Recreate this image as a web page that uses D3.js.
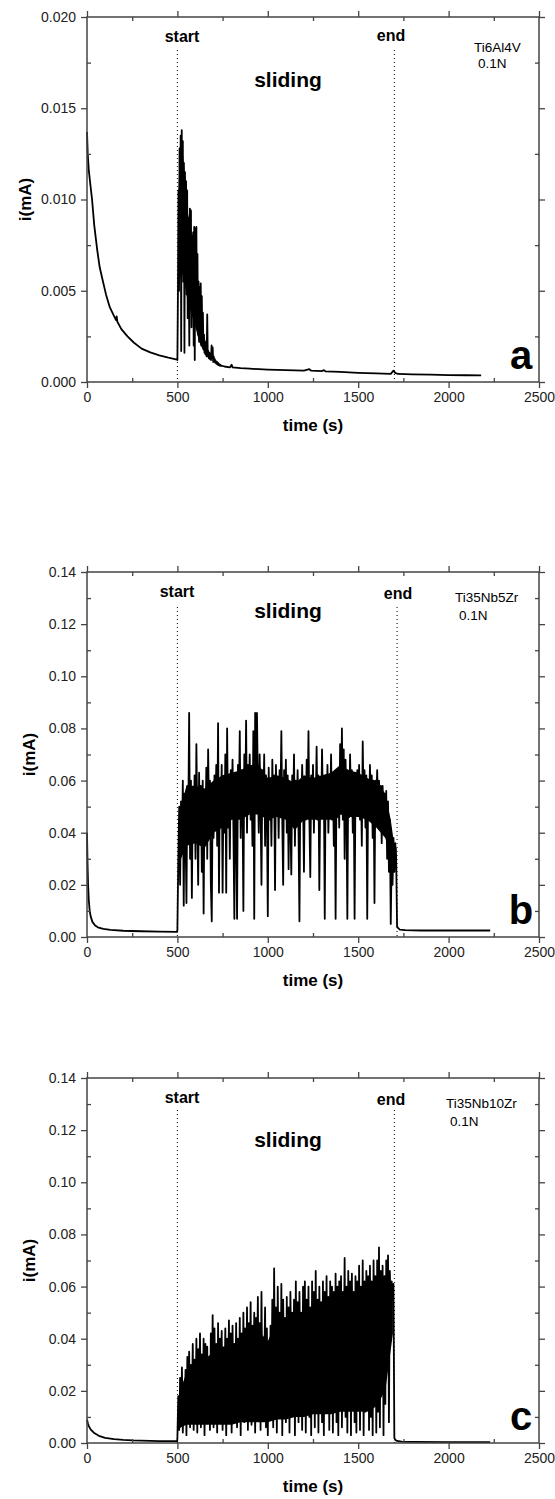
<!DOCTYPE html>
<html>
<head>
<meta charset="utf-8">
<script src="https://cdn.jsdelivr.net/npm/d3@7"></script>
<style>
body { margin: 0; background: #fff; }
svg { display: block; font-family: "Liberation Sans", Arial, sans-serif; }
</style>
</head>
<body>
<svg id="chart" width="555" height="1499"></svg>
<script>
// time axis (s), shared by the three panels
const xTicks = [0, 500, 1000, 1500, 2000, 2500]
const xMinor = [250, 750, 1250, 1750, 2250]

// current axes (mA)
const aYTicks = [0, 0.005, 0.010, 0.015, 0.020]
const aYMinor = [0.0025, 0.0075, 0.0125, 0.0175]
const bcYTicks = [0, 0.02, 0.04, 0.06, 0.08, 0.10, 0.12, 0.14]
const bcYMinor = [0.01, 0.03, 0.05, 0.07, 0.09, 0.11, 0.13]

const alloys = ["Ti6Al4V", "Ti35Nb5Zr", "Ti35Nb10Zr"]
const loads = ["0.1N", "0.1N", "0.1N"]
const letters = ["a", "b", "c"]

// sliding start / end (s)
const aMarks = [500, 1700]
const bMarks = [500, 1715]
const cMarks = [500, 1700]

// currents below are in µA (1e-3 mA)
// panel a: open circuit decay, [t, i]
const aBefore = [[0,13.7],[4,12.5],[10,11.6],[20,10.7],[28,10],[40,8.6],[57,7.2],[70,6.3],[86,5.6],[105,4.8],
  [126,4.1],[145,3.7],[160,3.4],[164,3.6],[168,3.3],[190,2.9],[224,2.5],[260,2.15],[302,1.83],[350,1.62],
  [400,1.46],[450,1.33],[498,1.23]]
// panel a: during first part of sliding, one reading every 3 s from 500 s
const aSliding = [1.2, 4.8, 10.5, 5.0, 12.8, 6.0, 13.5, 1.7, 13.8, 7.5, 13.2, 5.5, 12.0, 1.6, 11.5, 6.5, 11.0, 4.8, 10.5, 3.5,
  9.0, 5.5, 2.0, 9.5, 4.2, 9.4, 3.0, 8.0, 5.5, 8.2, 2.0, 8.5, 1.2, 8.4, 4.0, 8.5, 3.0, 7.0, 2.6, 5.5,
  2.2, 5.2, 3.0, 5.4, 2.0, 4.7, 2.2, 3.8, 1.8, 2.6, 1.6, 2.2, 1.5, 1.9, 1.4, 3.7, 1.4, 1.7, 1.3, 1.6,
  1.25, 1.5, 1.2, 2.0, 1.3, 1.9, 1.1, 1.4, 1.1, 1.25, 1.05, 1.15, 1.0, 1.1, 0.95, 1.05, 0.92, 0.98, 0.9, 0.95,
  0.88, 0.9]
// panel a: solid core of the noisy trace, [t, low, high]
const aCore = [[505,5,10],[512,5.5,12.5],[525,6,13],[540,5.5,11.5],[555,4.5,9.5],[570,4,8.5],[585,3.5,7.5],
  [600,3,6],[620,2.2,4.8],[640,1.8,3],[660,1.5,2],[680,1.25,1.5]]
const aAfter = [[760,0.85],[790,0.8],[800,0.95],[805,0.8],[850,0.76],[900,0.73],[950,0.7],[1000,0.68],[1100,0.65],[1200,0.62],
  [1230,0.7],[1240,0.62],[1300,0.6],[1310,0.65],[1320,0.58],[1400,0.55],[1500,0.5],[1600,0.47],[1680,0.45],[1695,0.62],
  [1705,0.5],[1720,0.44],[1800,0.42],[1900,0.4],[2000,0.38],[2100,0.37],[2180,0.36]]

// panel b
const bBefore = [[0,40],[3,28],[6,20],[10,14],[15,10],[20,8],[30,5.8],[45,4.4],[60,3.7],[90,3.1],
  [130,2.7],[200,2.4],[300,2.2],[400,2.1],[499,2.0]]
// one reading every 5 s from 500 s
const bSliding = [3, 30, 50, 20, 52, 35, 60, 12, 55, 40, 13, 58, 45, 86, 30, 60, 15, 55, 40, 62,
  30, 74, 45, 20, 63, 38, 58, 25, 60, 9, 55, 40, 65, 30, 72, 45, 60, 20, 6, 55,
  38, 62, 48, 66, 35, 82, 17, 60, 45, 66, 17, 58, 40, 70, 17, 80, 42, 62, 30, 64,
  50, 68, 40, 7, 60, 45, 7, 66, 50, 79, 38, 64, 52, 10, 70, 48, 83, 40, 66, 55,
  70, 45, 62, 35, 79, 7, 86, 50, 86, 60, 40, 70, 50, 20, 64, 48, 70, 35, 62, 50,
  8, 65, 45, 60, 35, 68, 50, 62, 18, 66, 48, 60, 38, 64, 52, 79, 45, 20, 64, 50,
  68, 40, 62, 26, 58, 45, 24, 62, 50, 70, 35, 60, 48, 64, 40, 6, 58, 48, 66, 52,
  25, 60, 45, 68, 50, 79, 45, 23, 62, 48, 66, 40, 60, 50, 73, 45, 62, 18, 55, 46,
  72, 50, 60, 7, 62, 48, 66, 40, 58, 50, 70, 45, 62, 35, 60, 7, 58, 46, 64, 42,
  74, 48, 80, 45, 72, 30, 68, 50, 7, 62, 46, 70, 52, 64, 40, 60, 7, 58, 48, 64,
  52, 66, 45, 60, 35, 75, 50, 64, 42, 62, 7, 58, 46, 66, 50, 62, 38, 60, 13, 60,
  50, 64, 45, 60, 52, 58, 36, 58, 48, 55, 40, 56, 30, 52, 25, 45, 5, 30, 20, 38,
  25, 36, 30, 4]
const bCore = [[505,20,45],[520,30,50],[550,35,58],[600,36,58],[650,34,57],[700,40,60],[750,42,62],[800,45,63],
  [850,45,64],[900,47,66],[950,47,66],[1000,45,61],[1050,46,62],[1100,45,61],[1150,41,59],[1200,45,62],
  [1250,45,61],[1300,45,62],[1350,45,63],[1400,47,66],[1450,46,64],[1500,46,63],[1550,45,61],[1600,42,59],
  [1650,38,55],[1680,30,45],[1700,26,35],[1712,26,34]]
const bAfter = [[1720,3.5],[1730,2.8],[1760,2.6],[1850,2.5],[2000,2.5],[2230,2.5]]

// panel c
const cBefore = [[0,9],[5,7.5],[10,6.5],[20,5.2],[40,3.8],[70,2.6],[100,2],[150,1.5],[200,1.2],[250,1],
  [300,0.9],[400,0.75],[499,0.7]]
// one reading every 5 s from 500 s
const cSliding = [2, 18, 5, 25, 8, 29, 4, 22, 10, 28, 3, 33, 12, 35, 6, 30, 14, 38, 5, 32,
  10, 40, 4, 36, 15, 42, 6, 34, 12, 40, 3, 38, 18, 37, 8, 30, 5, 42, 14, 49,
  6, 44, 16, 38, 4, 46, 12, 40, 20, 43, 5, 36, 15, 44, 3, 40, 18, 47, 8, 42,
  4, 45, 14, 38, 22, 46, 6, 40, 12, 48, 3, 42, 18, 50, 8, 44, 15, 52, 5, 46,
  20, 54, 7, 45, 12, 50, 4, 48, 25, 56, 10, 46, 5, 58, 15, 40, 28, 52, 6, 44,
  3, 38, 12, 45, 20, 55, 6, 67, 18, 52, 4, 60, 25, 50, 10, 61, 3, 55, 22, 48,
  8, 56, 16, 52, 4, 58, 28, 50, 12, 55, 3, 62, 20, 54, 8, 58, 30, 50, 5, 60,
  15, 62, 4, 55, 25, 60, 10, 52, 3, 62, 18, 58, 6, 66, 22, 55, 4, 60, 30, 54,
  8, 62, 3, 58, 20, 64, 12, 56, 5, 62, 28, 60, 4, 58, 15, 65, 8, 60, 3, 62,
  22, 64, 6, 58, 33, 71, 10, 60, 4, 66, 18, 62, 3, 65, 25, 58, 8, 64, 4, 62,
  15, 68, 5, 60, 28, 70, 3, 62, 12, 66, 20, 64, 5, 68, 10, 62, 3, 70, 25, 64,
  4, 70, 12, 75, 6, 66, 20, 68, 3, 64, 15, 70, 40, 72, 8, 66, 48, 62, 55, 61]
const cCore = [[505,5,12],[520,6,21],[550,7,27],[600,7,31],[650,7,32],[700,7,35],[750,7,37],[800,7,37],
  [850,8,39],[900,8,41],[950,8,43],[1000,8,39],[1050,9,47],[1100,9,47],[1150,10,49],[1200,10,49],
  [1250,11,51],[1300,11,52],[1350,11,53],[1400,12,54],[1450,12,55],[1500,12,56],[1550,12,57],
  [1600,14,59],[1650,20,61],[1692,42,61]]
const cAfter = [[1700,2],[1705,1.2],[1715,0.8],[1740,0.5],[1800,0.4],[2000,0.3],[2230,0.3]]

const series = (before, sliding, step, after) =>
  before.concat(sliding.map((v, i) => [500 + i * step, v]), after)

const panels = [
  {top: 17, yTicks: aYTicks, yMinor: aYMinor, fmt: d3.format(".3f"), marks: aMarks,
   data: series(aBefore, aSliding, 3, aAfter), core: aCore, titleX: 25,
   startY: 19, endY: 18, slidingY: 62, lineY: 33, alloyX: 474, alloyY: 30, loadY: 46, markX: [182, 391]},
  {top: 572, yTicks: bcYTicks, yMinor: bcYMinor, fmt: d3.format(".2f"), marks: bMarks,
   data: series(bBefore, bSliding, 5, bAfter), core: bCore, titleX: 29,
   startY: 19, endY: 21, slidingY: 38, lineY: 35, alloyX: 455, alloyY: 25, loadY: 43, markX: [177, 398]},
  {top: 1078, yTicks: bcYTicks, yMinor: bcYMinor, fmt: d3.format(".2f"), marks: cMarks,
   data: series(cBefore, cSliding, 5, cAfter), core: cCore, titleX: 29,
   startY: 19, endY: 21, slidingY: 61, lineY: 32, alloyX: 446, alloyY: 25, loadY: 43, markX: [182, 391]}
]

const left = 87, width = 452, height = 365
const axisColor = "#444"
const svg = d3.select("#chart")

panels.forEach((p, k) => {
  const g = svg.append("g").attr("transform", `translate(${left},${p.top})`)
  const x = d3.scaleLinear().domain([0, 2500]).range([0, width])
  const y = d3.scaleLinear().domain([0, p.yTicks[p.yTicks.length - 1]]).range([height, 0])

  // dense part of the noisy trace
  const area = d3.area().x(d => x(d[0])).y0(d => y(d[1] / 1000)).y1(d => y(d[2] / 1000))
  g.append("path")
      .datum(p.core)
      .attr("d", area)
      .attr("fill", "#000")

  // data
  const line = d3.line().x(d => x(d[0])).y(d => y(d[1] / 1000))
  g.append("path")
      .datum(p.data)
      .attr("d", line)
      .attr("fill", "none")
      .attr("stroke", "#000")
      .attr("stroke-width", 1.8)
      .attr("stroke-linejoin", "round")

  // start / end dotted marks
  g.selectAll(".mark")
    .data(p.marks)
    .join("line")
      .attr("x1", d => x(d)).attr("x2", d => x(d))
      .attr("y1", p.lineY).attr("y2", height)
      .attr("stroke", "#000")
      .attr("stroke-width", 1)
      .attr("stroke-dasharray", "1,3")

  // axes: major ticks outward, minor ticks inward, on all four sides
  const styleAxis = sel => {
    sel.select(".domain").remove()
    sel.selectAll("line").attr("stroke", axisColor).attr("stroke-width", 1.3)
    sel.selectAll("text").attr("fill", "#222").style("font-size", "14px")
      .style("font-family", '"Liberation Sans", Arial, sans-serif')
  }
  g.append("g").attr("transform", `translate(0,${height})`)
    .call(d3.axisBottom(x).tickValues(xTicks).tickSize(6).tickPadding(4).tickFormat(d3.format("d")))
    .call(styleAxis)
  g.append("g").attr("transform", `translate(0,${height})`)
    .call(d3.axisBottom(x).tickValues(xMinor).tickSize(-4).tickFormat(""))
    .call(styleAxis)
  g.append("g")
    .call(d3.axisTop(x).tickValues(xTicks).tickSize(6).tickFormat(""))
    .call(styleAxis)
  g.append("g")
    .call(d3.axisTop(x).tickValues(xMinor).tickSize(-4).tickFormat(""))
    .call(styleAxis)
  g.append("g")
    .call(d3.axisLeft(y).tickValues(p.yTicks).tickSize(6).tickPadding(5).tickFormat(p.fmt))
    .call(styleAxis)
  g.append("g")
    .call(d3.axisLeft(y).tickValues(p.yMinor).tickSize(-4).tickFormat(""))
    .call(styleAxis)
  g.append("g").attr("transform", `translate(${width},0)`)
    .call(d3.axisRight(y).tickValues(p.yTicks).tickSize(6).tickFormat(""))
    .call(styleAxis)
  g.append("g").attr("transform", `translate(${width},0)`)
    .call(d3.axisRight(y).tickValues(p.yMinor).tickSize(-4).tickFormat(""))
    .call(styleAxis)

  g.append("rect")
      .attr("width", width).attr("height", height)
      .attr("fill", "none")
      .attr("stroke", axisColor)
      .attr("stroke-width", 1.5)

  // titles
  g.append("text")
      .attr("transform", `translate(${p.titleX - left},${height / 2}) rotate(-90)`)
      .attr("text-anchor", "middle")
      .attr("dominant-baseline", "central")
      .attr("font-weight", "bold")
      .attr("font-size", 17)
      .text("i(mA)")
  g.append("text")
      .attr("x", width / 2).attr("y", height + 43)
      .attr("text-anchor", "middle")
      .attr("dominant-baseline", "central")
      .attr("font-weight", "bold")
      .attr("font-size", 17)
      .text("time (s)")

  // annotations
  const bold = (tx, px, py, size) => g.append("text")
      .attr("x", px - left).attr("y", py)
      .attr("text-anchor", "middle")
      .attr("dominant-baseline", "central")
      .attr("font-weight", "bold")
      .attr("font-size", size)
      .text(tx)
  bold("start", p.markX[0], p.startY, 16)
  bold("end", p.markX[1], p.endY, 16)
  bold("sliding", 288, p.slidingY, 21)
  bold(letters[k], 521, 338, 40)

  g.append("text")
      .attr("x", p.alloyX - left).attr("y", p.alloyY)
      .attr("dominant-baseline", "central")
      .attr("font-size", 13.5)
      .text(alloys[k])
  g.append("text")
      .attr("x", p.alloyX - left + 4).attr("y", p.loadY)
      .attr("dominant-baseline", "central")
      .attr("font-size", 13.5)
      .text(loads[k])
})
</script>
</body>
</html>
